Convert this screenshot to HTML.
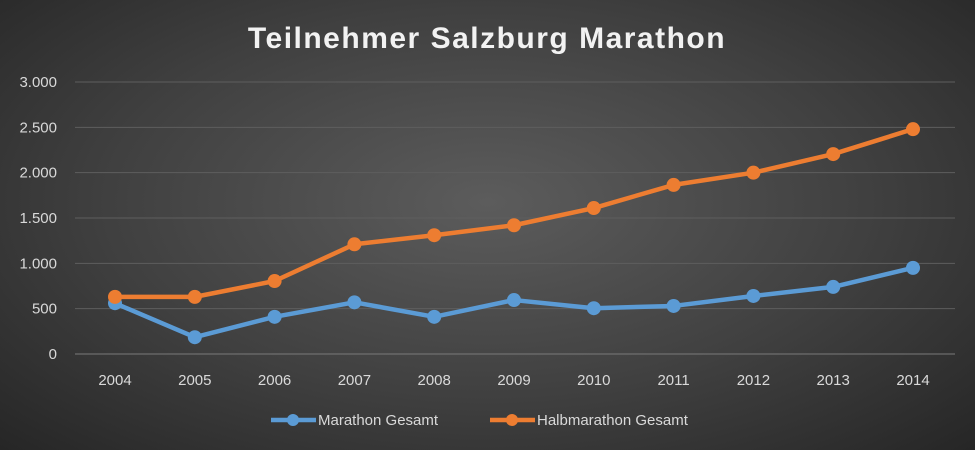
<!DOCTYPE html>
<html><head><meta charset="utf-8"><style>
html,body{margin:0;padding:0}
body{width:975px;height:450px;overflow:hidden;font-family:"Liberation Sans",sans-serif}
#chart{width:975px;height:450px;background:radial-gradient(ellipse at 50% 45%,#5c5c5c 0%,#404040 55%,#262626 100%)}
</style></head><body>
<div id="chart">
<svg id="svg" width="975" height="450"></svg>
</div>
<script>
const years=["2004","2005","2006","2007","2008","2009","2010","2011","2012","2013","2014"];
const marathon=[560,185,410,570,410,595,505,530,640,740,950];
const halbmarathon=[630,630,805,1210,1310,1420,1610,1865,2000,2205,2480];
const yTicks=[0,500,1000,1500,2000,2500,3000];
const yTickLabels=["0","500","1.000","1.500","2.000","2.500","3.000"];
const NS="http://www.w3.org/2000/svg";
const svg=document.getElementById('svg');
const x0=115,xStep=79.8,yBase=354,yTop=82,yMax=3000;
const xs=i=>x0+i*xStep;
const ys=v=>yBase-(v/yMax)*(yBase-yTop);
function mk(tag,attrs,parent){const e=document.createElementNS(NS,tag);for(const k in attrs)e.setAttribute(k,attrs[k]);(parent||svg).appendChild(e);return e;}
const title=mk('text',{x:487,y:48,'text-anchor':'middle',fill:'#f2f2f2','font-size':30,'font-weight':'bold','letter-spacing':'1.5'});


title.textContent='Teilnehmer Salzburg Marathon';
yTicks.forEach((t,i)=>{
  const g=mk('line',{x1:75,x2:955,y1:ys(t),y2:ys(t),stroke:i===0?'#7a7a7a':'#5e5e5e','stroke-width':1});
  
  
  const l=mk('text',{x:57,y:ys(t)+5,'text-anchor':'end',fill:'#d9d9d9','font-size':15});
  
  
  l.textContent=yTickLabels[i];
});
years.forEach((yr,i)=>{
  const l=mk('text',{x:xs(i),y:385,'text-anchor':'middle',fill:'#d9d9d9','font-size':15});
  
  
  l.textContent=yr;
});
function series(vals,color,name){
  const p=mk('polyline',{points:vals.map((v,i)=>xs(i)+','+ys(v)).join(' '),fill:'none',stroke:color,'stroke-width':4.5,'stroke-linejoin':'round'});
  
  
  vals.forEach((v,i)=>{
    const c=mk('circle',{cx:xs(i),cy:ys(v),r:7,fill:color});
    
    
  });
}
series(marathon,'#5b9bd5','marathon');
series(halbmarathon,'#ed7d31','halbmarathon');
function legend(x,color,label,name){
  const l=mk('line',{x1:x,x2:x+45,y1:420,y2:420,stroke:color,'stroke-width':4.5});
  
  
  const c=mk('circle',{cx:x+22,cy:420,r:6,fill:color});
  
  
  const t=mk('text',{x:x+47,y:425,fill:'#d9d9d9','font-size':15});
  
  
  t.textContent=label;
}
legend(271,'#5b9bd5','Marathon Gesamt','marathon');
legend(490,'#ed7d31','Halbmarathon Gesamt','halbmarathon');
</script>
</body></html>
